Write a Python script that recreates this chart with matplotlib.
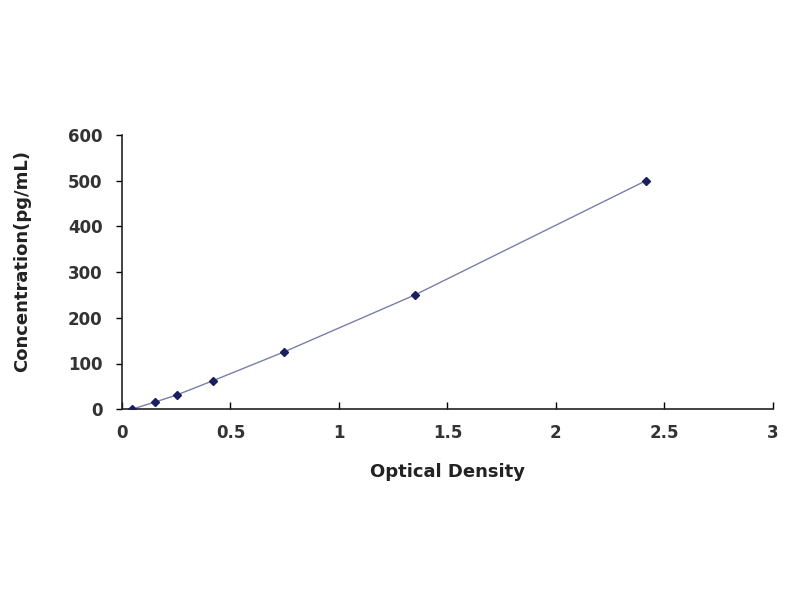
import matplotlib
matplotlib.use("Agg")
import matplotlib.pyplot as plt

od = [0.046, 0.152, 0.253, 0.42, 0.745, 1.35, 2.415]
conc = [0, 15.6, 31.2, 62.5, 125, 250, 500]
xticks = [0, 0.5, 1, 1.5, 2, 2.5, 3]
xticklabels = ["0", "0.5", "1", "1.5", "2", "2.5", "3"]
yticks = [0, 100, 200, 300, 400, 500, 600]

plt.rcParams['font.family'] = ['DejaVu Sans']

fig = plt.figure(figsize=(8, 6), dpi=100)
ax = fig.add_axes([0.1525, 0.318, 0.8135, 0.457])

ax.plot(od, conc, color="#7a7fa8", lw=1.0, zorder=2)
ax.plot(od, conc, ls="none", marker="D", ms=4, color="#1c1f5e", zorder=3)

ax.set_xlim(0, 3)
ax.set_ylim(0, 600)
ax.set_xticks(xticks)
ax.set_xticklabels(xticklabels)
ax.set_yticks(yticks)

for s in ["top", "right"]:
    ax.spines[s].set_visible(False)
for s in ["left", "bottom"]:
    ax.spines[s].set_linewidth(1.2)
    ax.spines[s].set_color("#222222")

ax.tick_params(axis="x", direction="in", length=5, width=1, pad=11)
ax.tick_params(axis="y", direction="out", length=4, width=1, pad=10)
for lab in ax.get_xticklabels() + ax.get_yticklabels():
    lab.set_fontweight("bold")
    lab.set_fontsize(12)
    lab.set_color("#333333")

ax.set_xlabel("Optical Density", fontsize=13, fontweight="bold", color="#222222", labelpad=15)
ax.set_ylabel("Concentration(pg/mL)", fontsize=13, fontweight="bold", color="#222222")
ax.yaxis.set_label_coords(-0.14, 0.54)

fig.savefig("out.png", dpi=100)
